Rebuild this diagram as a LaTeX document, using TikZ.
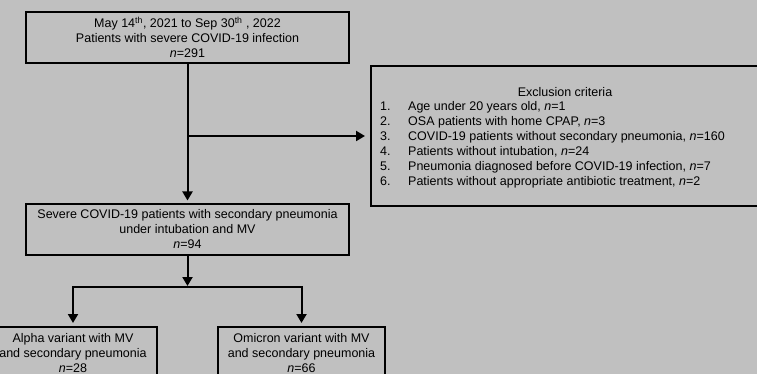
\documentclass[tikz,border=0pt]{standalone}
\usepackage{fontspec}
\setmainfont{Liberation Sans}
\usetikzlibrary{arrows.meta}
\definecolor{bg}{RGB}{192,192,192}
\begin{document}
\begin{tikzpicture}[x=1pt,y=-1pt,
  txt/.style={inner sep=0pt,align=center,font=\fontsize{12.5}{15}\selectfont},
  box/.style={txt,draw,line width=2pt},
  conn/.style={line width=2pt},
  arr/.style={conn,-{Triangle[width=10pt,length=9pt]}}]
\fill[bg] (0,0) rectangle (757,374);
\useasboundingbox (0,0) rectangle (757,374);
\clip (0,0) rectangle (757,374);

\node[box,minimum width=323pt,minimum height=51pt] (top) at (187.5,37.5)
  {May 14\textsuperscript{th}, 2021 to Sep 30\textsuperscript{th} , 2022\\
   Patients with severe COVID-19 infection\\ \textit{n}=291};

\node[box,minimum width=323pt,minimum height=51pt] (mid) at (187.5,229)
  {Severe COVID-19 patients with secondary pneumonia\\
   under intubation and MV\\ \textit{n}=94};

\node[box,minimum width=388pt,minimum height=140pt] (ex) at (565,136) {};
\node[txt] (extitle) at (565,92) {Exclusion criteria};
\node[txt,align=left,anchor=west] (exlist) at (380,144.5)
  {\makebox[28pt][l]{1.}Age under 20 years old, \textit{n}=1\\
   \makebox[28pt][l]{2.}OSA patients with home CPAP, \textit{n}=3\\
   \makebox[28pt][l]{3.}COVID-19 patients without secondary pneumonia, \textit{n}=160\\
   \makebox[28pt][l]{4.}Patients without intubation, \textit{n}=24\\
   \makebox[28pt][l]{5.}Pneumonia diagnosed before COVID-19 infection, \textit{n}=7\\
   \makebox[28pt][l]{6.}Patients without appropriate antibiotic treatment, \textit{n}=2};

\node[box,anchor=north,minimum width=168pt,minimum height=52pt] (alpha) at (73,326)
  {Alpha variant with MV\\ and secondary pneumonia\\ \textit{n}=28};
\node[box,anchor=north,minimum width=167pt,minimum height=52pt] (omicron) at (301.5,326)
  {Omicron variant with MV\\ and secondary pneumonia\\ \textit{n}=66};

\coordinate (br) at (187.5,136);
\coordinate (split) at (187.5,287);
\coordinate (lt) at (73,287);
\coordinate (rt) at (301.5,287);

\draw[arr,shorten >=2pt] (top.south) -- (mid.north);
\draw[arr,shorten >=5pt] (br) -- (ex.west);
\draw[arr,shorten >=1pt] (mid.south) -- (split);
\draw[conn,line cap=rect] (lt) -- (rt);
\draw[arr,shorten >=3pt] (lt) -- (alpha.north);
\draw[arr,shorten >=3pt] (rt) -- (omicron.north);
\end{tikzpicture}
\end{document}
